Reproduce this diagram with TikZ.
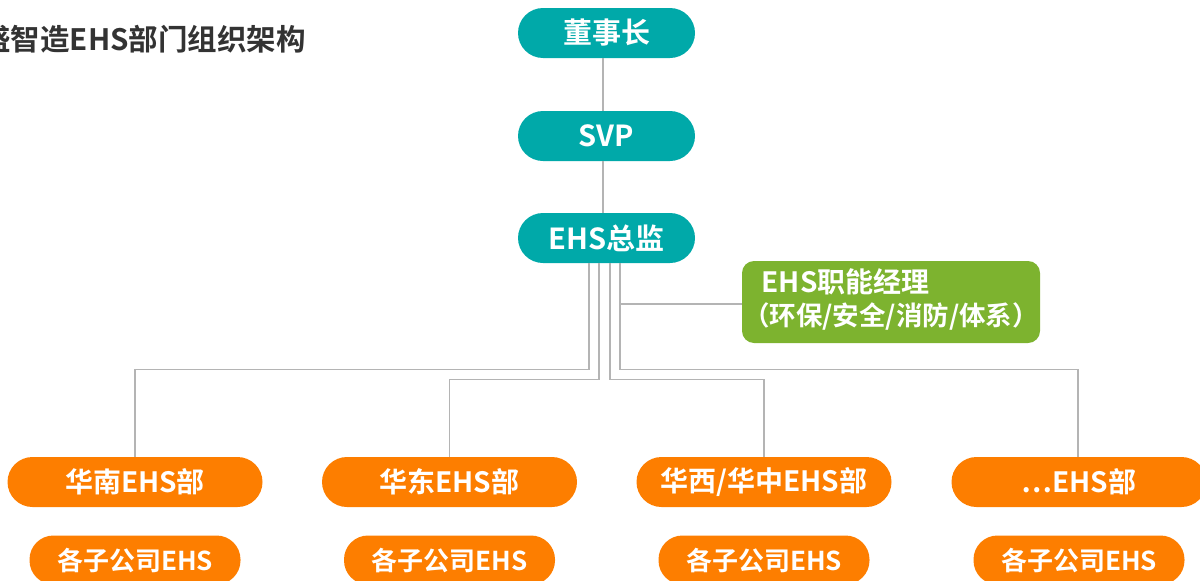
\documentclass[tikz,border=0pt]{standalone}
\usepackage{fontspec}
\setmainfont{Noto Sans CJK SC}[BoldFont={Noto Sans CJK SC Bold}]
\usetikzlibrary{positioning}
\definecolor{teal1}{HTML}{00A9A9}
\definecolor{orange1}{HTML}{FD7E00}
\definecolor{green1}{HTML}{7DB32F}
\definecolor{line1}{HTML}{B4B4B4}
\definecolor{title1}{HTML}{333333}
\tikzset{
  topbox/.style={fill=teal1, rounded corners=25pt, minimum width=177pt, minimum height=50pt, inner sep=0pt, text=white, font=\fontsize{29}{32}\selectfont\bfseries},
  regbox/.style={fill=orange1, rounded corners=25pt, minimum width=255pt, minimum height=50pt, inner sep=0pt, text=white, font=\fontsize{28}{30}\selectfont\bfseries},
  subbox/.style={fill=orange1, rounded corners=24pt, minimum width=211pt, minimum height=49pt, inner sep=0pt, text=white, font=\fontsize{26}{30}\selectfont\bfseries},
  funcbox/.style={fill=green1, rounded corners=12pt, minimum width=298pt, minimum height=82pt, inner sep=0pt, text=white, font=\fontsize{26.5}{35}\selectfont\bfseries},
  conn/.style={draw=line1, line width=1.3pt},
  ttl/.style={text=title1, inner sep=0pt, font=\fontsize{29.5}{32}\selectfont\bfseries}
}
\begin{document}
\begin{tikzpicture}[x=1pt,y=-1pt]
\useasboundingbox (0,0) rectangle (1200,581);
\node[ttl, anchor=base east] (title) at (306,50) {盛智造EHS部门组织架构};

\node[topbox] (chair) at (606.5,33) {董事长};
\node[topbox] (svp) at (606.5,136) {SVP};
\node[topbox] (dir) at (606.5,238) {EHS总监};
\node[funcbox] (func) at (891,302) {\begin{tabular}{@{}l@{}}\hspace*{12pt}{\fontsize{28}{35}\selectfont EHS职能经理}\\[-2pt]\makebox[20pt][r]{（}环保/安全/消防/体系\makebox[20pt][l]{）}\end{tabular}};

\node[regbox] (hn) at (135,482) {华南EHS部};
\node[regbox] (hd) at (449.5,482) {华东EHS部};
\node[regbox] (hx) at (764,482) {华西/华中EHS部};
\node[regbox] (etc) at (1079,482) {…EHS部};

\node[subbox] (s1) at (135,560) {各子公司EHS};
\node[subbox] (s2) at (449.5,560) {各子公司EHS};
\node[subbox] (s3) at (764,560) {各子公司EHS};
\node[subbox] (s4) at (1079,560) {各子公司EHS};

\draw[conn] ([xshift=-3.5pt]chair.south) -- ([xshift=-3.5pt]svp.north);
\draw[conn] ([xshift=-3.5pt]svp.south) -- ([xshift=-3.5pt]dir.north);

\draw[conn] ([xshift=-17.5pt]dir.south) -- ++(0,106) -| (hn.north);
\draw[conn] ([xshift=-7.5pt]dir.south) -- ++(0,116) -| (hd.north);
\draw[conn] ([xshift=3.5pt]dir.south) -- ++(0,116) -| (hx.north);
\draw[conn] ([xshift=13.5pt]dir.south) -- ++(0,106) -| ([xshift=-1pt]etc.north);
\draw[conn] ([xshift=13.5pt,yshift=-2pt]dir.south |- func.west) -- ([yshift=-2pt]func.west);
\end{tikzpicture}
\end{document}
